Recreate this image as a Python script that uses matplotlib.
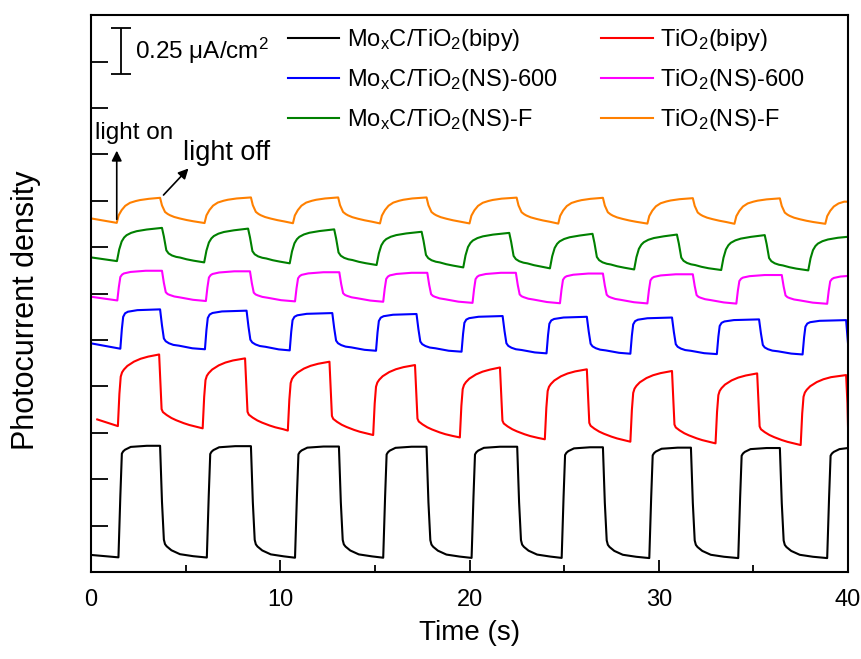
"""Transient photocurrent response of the TiO2 and MoxC/TiO2 electrodes (chopped light)."""

import matplotlib

matplotlib.use("Agg")
import matplotlib.pyplot as plt
from matplotlib.ticker import MultipleLocator

plt.rcParams["font.family"] = ["Liberation Sans", "DejaVu Sans"]
plt.rcParams["mathtext.default"] = "regular"

# Each trace: start point, light-on / light-off times (s), dark level just before
# each light-on, photocurrent level just before each light-off, and the value at 40 s.
# Levels are in uA/cm2 including the vertical offset used for stacking.
BIPY_MOXC_START = (0.0, 0.092)
BIPY_MOXC_ON = [1.45, 6.12, 10.78, 15.44, 20.11, 24.87, 29.50, 34.20, 38.90]
BIPY_MOXC_OFF = [3.65, 8.45, 13.10, 17.73, 22.52, 27.05, 31.70, 36.40]
BIPY_MOXC_DARK = [0.079, 0.078, 0.077, 0.077, 0.076, 0.076, 0.075, 0.075, 0.075]
BIPY_MOXC_LIGHT = [0.680, 0.678, 0.676, 0.675, 0.675, 0.672, 0.670, 0.668, 0.668]
BIPY_MOXC_END = 0.668

BIPY_TIO2_START = (0.33, 0.822)
BIPY_TIO2_ON = [1.42, 5.90, 10.40, 14.91, 19.49, 23.98, 28.50, 33.00, 37.50]
BIPY_TIO2_OFF = [3.60, 8.14, 12.60, 17.12, 21.61, 26.20, 30.70, 35.20, 39.90]
BIPY_TIO2_DARK = [0.786, 0.774, 0.762, 0.738, 0.725, 0.715, 0.702, 0.693, 0.684]
BIPY_TIO2_LIGHT = [1.172, 1.151, 1.133, 1.115, 1.102, 1.092, 1.083, 1.070, 1.061]
BIPY_TIO2_END = 0.785

NS600_MOXC_START = (0.0, 1.232)
NS600_MOXC_ON = [1.55, 6.02, 10.50, 15.06, 19.58, 24.07, 28.50, 33.07, 37.60]
NS600_MOXC_OFF = [3.65, 8.22, 12.75, 17.20, 21.75, 26.20, 30.70, 35.30, 39.90]
NS600_MOXC_DARK = [1.203, 1.200, 1.194, 1.192, 1.187, 1.178, 1.176, 1.174, 1.172]
NS600_MOXC_LIGHT = [1.415, 1.408, 1.395, 1.390, 1.379, 1.375, 1.371, 1.361, 1.357]
NS600_MOXC_END = 1.232

NS600_TIO2_START = (0.0, 1.483)
NS600_TIO2_ON = [1.39, 6.07, 10.78, 15.44, 20.16, 24.78, 29.40, 34.10, 38.90]
NS600_TIO2_OFF = [3.75, 8.40, 13.12, 17.77, 22.45, 27.05, 31.80, 36.50]
NS600_TIO2_DARK = [1.463, 1.460, 1.458, 1.456, 1.450, 1.448, 1.447, 1.446, 1.445]
NS600_TIO2_LIGHT = [1.623, 1.620, 1.615, 1.612, 1.612, 1.608, 1.604, 1.600, 1.598]
NS600_TIO2_END = 1.595

NSF_MOXC_START = (0.0, 1.695)
NSF_MOXC_ON = [1.37, 5.98, 10.50, 15.09, 19.67, 24.25, 28.70, 33.30, 37.90]
NSF_MOXC_OFF = [3.75, 8.30, 12.85, 17.47, 22.10, 26.50, 30.96, 35.60]
NSF_MOXC_DARK = [1.675, 1.668, 1.663, 1.654, 1.641, 1.636, 1.630, 1.627, 1.625]
NSF_MOXC_LIGHT = [1.854, 1.850, 1.846, 1.833, 1.827, 1.822, 1.818, 1.815, 1.810]
NSF_MOXC_END = 1.806

NSF_TIO2_START = (0.0, 1.905)
NSF_TIO2_ON = [1.36, 6.00, 10.67, 15.27, 20.00, 24.69, 29.40, 34.00, 38.80]
NSF_TIO2_OFF = [3.65, 8.45, 13.06, 17.73, 22.49, 27.05, 31.80, 36.40]
NSF_TIO2_DARK = [1.881, 1.880, 1.879, 1.878, 1.878, 1.877, 1.877, 1.876, 1.876]
NSF_TIO2_LIGHT = [2.016, 2.018, 2.018, 2.018, 2.017, 2.016, 2.014, 2.013, 2.013]
NSF_TIO2_END = 1.995

# Rise / decay shape of each electrode: seconds after the switch and the fraction
# of the dark-to-light step reached at that moment.
SQUARE_ON = ([0.0, 0.10, 0.18, 0.25, 0.35, 0.65, 1.50],
             [0.0, 0.55, 0.93, 0.95, 0.965, 0.99, 1.0])
SQUARE_OFF = ([0.0, 0.10, 0.20, 0.26, 0.35, 0.60, 1.05, 1.75],
              [1.0, 0.50, 0.16, 0.12, 0.10, 0.065, 0.03, 0.012])
BIPY_TIO2_RISE = ([0.0, 0.08, 0.15, 0.22, 0.32, 0.50, 0.85, 1.20, 1.60],
                  [0.0, 0.45, 0.69, 0.75, 0.79, 0.84, 0.90, 0.94, 0.97])
BIPY_TIO2_DECAY = ([0.0, 0.07, 0.13, 0.20, 0.40, 0.65, 0.90, 1.30, 1.60, 2.00],
                   [1.0, 0.60, 0.26, 0.22, 0.18, 0.14, 0.11, 0.07, 0.045, 0.02])
NS600_MOXC_RISE = ([0.0, 0.08, 0.15, 0.25, 0.40, 0.90],
                   [0.0, 0.50, 0.81, 0.90, 0.94, 0.98])
NS600_MOXC_DECAY = ([0.0, 0.10, 0.20, 0.30, 0.47, 0.70, 1.00, 1.70],
                    [1.0, 0.60, 0.27, 0.20, 0.15, 0.11, 0.09, 0.025])
NS600_TIO2_RISE = ([0.0, 0.08, 0.16, 0.25, 0.35, 0.70, 1.50],
                   [0.0, 0.45, 0.79, 0.87, 0.91, 0.96, 1.0])
NS600_TIO2_DECAY = ([0.0, 0.10, 0.20, 0.30, 0.41, 0.65, 0.94, 1.64],
                    [1.0, 0.60, 0.29, 0.23, 0.20, 0.15, 0.12, 0.04])
NSF_MOXC_RISE = ([0.0, 0.12, 0.25, 0.38, 0.51, 0.75, 1.04, 1.57],
                 [0.0, 0.35, 0.59, 0.71, 0.78, 0.85, 0.90, 0.95])
NSF_MOXC_DECAY = ([0.0, 0.10, 0.23, 0.35, 0.53, 0.75, 0.96, 1.30, 1.67],
                  [1.0, 0.75, 0.35, 0.26, 0.20, 0.16, 0.14, 0.09, 0.05])
NSF_TIO2_RISE = ([0.0, 0.10, 0.26, 0.45, 0.70, 1.00, 1.23, 1.70],
                 [0.0, 0.30, 0.51, 0.68, 0.80, 0.87, 0.91, 0.96])
NSF_TIO2_DECAY = ([0.0, 0.10, 0.26, 0.40, 0.52, 0.75, 1.05, 1.40, 1.76],
                  [1.0, 0.70, 0.44, 0.36, 0.31, 0.24, 0.18, 0.12, 0.07])

T_END = 40.0
SCALE_BAR = 0.25

LABELS = [
    r"Mo$_x$C/TiO$_2$(bipy)",
    r"TiO$_2$(bipy)",
    r"Mo$_x$C/TiO$_2$(NS)-600",
    r"TiO$_2$(NS)-600",
    r"Mo$_x$C/TiO$_2$(NS)-F",
    r"TiO$_2$(NS)-F",
]
COLORS = ["black", "#ff0000", "#0000ff", "#ff00ff", "#008000", "#ff8000"]


def build_trace(start, on, off, dark, light, end, rise, decay):
    t, v = [start[0]], [start[1]]
    for i, t_on in enumerate(on):
        stop = off[i] if i < len(off) else T_END
        for dt, f in zip(*rise):
            if t_on + dt < stop:
                t.append(t_on + dt)
                v.append(dark[i] + f * (light[i] - dark[i]))
        if i < len(off):
            nxt = on[i + 1] if i + 1 < len(on) else T_END
            base = dark[i + 1] if i + 1 < len(dark) else dark[i]
            for dt, f in zip(*decay):
                if off[i] + dt < nxt:
                    t.append(off[i] + dt)
                    v.append(base + f * (light[i] - base))
    t.append(T_END)
    v.append(end)
    return t, v


traces = [
    build_trace(BIPY_MOXC_START, BIPY_MOXC_ON, BIPY_MOXC_OFF, BIPY_MOXC_DARK,
                BIPY_MOXC_LIGHT, BIPY_MOXC_END, SQUARE_ON, SQUARE_OFF),
    build_trace(BIPY_TIO2_START, BIPY_TIO2_ON, BIPY_TIO2_OFF, BIPY_TIO2_DARK,
                BIPY_TIO2_LIGHT, BIPY_TIO2_END, BIPY_TIO2_RISE, BIPY_TIO2_DECAY),
    build_trace(NS600_MOXC_START, NS600_MOXC_ON, NS600_MOXC_OFF, NS600_MOXC_DARK,
                NS600_MOXC_LIGHT, NS600_MOXC_END, NS600_MOXC_RISE, NS600_MOXC_DECAY),
    build_trace(NS600_TIO2_START, NS600_TIO2_ON, NS600_TIO2_OFF, NS600_TIO2_DARK,
                NS600_TIO2_LIGHT, NS600_TIO2_END, NS600_TIO2_RISE, NS600_TIO2_DECAY),
    build_trace(NSF_MOXC_START, NSF_MOXC_ON, NSF_MOXC_OFF, NSF_MOXC_DARK,
                NSF_MOXC_LIGHT, NSF_MOXC_END, NSF_MOXC_RISE, NSF_MOXC_DECAY),
    build_trace(NSF_TIO2_START, NSF_TIO2_ON, NSF_TIO2_OFF, NSF_TIO2_DARK,
                NSF_TIO2_LIGHT, NSF_TIO2_END, NSF_TIO2_RISE, NSF_TIO2_DECAY),
]

fig = plt.figure(figsize=(8.61, 6.59), dpi=100)
ax = fig.add_axes([0.1057, 0.132, 0.8792, 0.845])

lines = {}
for (t, v), label, color in zip(traces, LABELS, COLORS):
    (lines[label],) = ax.plot(t, v, color=color, lw=1.5, label=label)

ax.set_xlim(0, 40)
ax.set_ylim(0, 3.0)
ax.xaxis.set_major_locator(MultipleLocator(10))
ax.xaxis.set_minor_locator(MultipleLocator(5))
ax.yaxis.set_major_locator(MultipleLocator(SCALE_BAR))
ax.tick_params(axis="x", which="major", direction="in", length=9, width=1.3, labelsize=17, pad=12)
ax.tick_params(axis="x", which="minor", direction="in", length=5, width=1.3)
ax.tick_params(axis="y", which="major", direction="in", length=12, width=1.3, labelleft=False)
for spine in ax.spines.values():
    spine.set_linewidth(1.5)

ax.set_xlabel("Time (s)", fontsize=20, labelpad=7)
ax.set_ylabel("Photocurrent density", fontsize=22)
ax.yaxis.set_label_coords(-0.066, 0.47)

# scale bar for the unlabeled current axis
ax.errorbar([1.58], [2.806], yerr=SCALE_BAR / 2, color="black", lw=1.3, capsize=7.5, capthick=1.3)
ax.text(2.32, 2.806, f"{SCALE_BAR} μA/cm$^2$", fontsize=17.5, va="center", ha="left")

ax.annotate("", xy=(1.36, 2.285), xytext=(1.36, 1.885),
            arrowprops=dict(arrowstyle="-|>", color="black", lw=1.2, mutation_scale=15))
ax.text(0.21, 2.364, "light on", fontsize=17.5, va="center", ha="left")
ax.annotate("", xy=(5.25, 2.185), xytext=(3.73, 2.02),
            arrowprops=dict(arrowstyle="-|>", color="black", lw=1.2, mutation_scale=15))
ax.text(4.86, 2.257, "light off", fontsize=19.5, va="center", ha="left")

order = [LABELS[0], LABELS[2], LABELS[4], LABELS[1], LABELS[3], LABELS[5]]
ax.legend([lines[k] for k in order], order, ncol=2, frameon=False, fontsize=17,
          loc="upper left", bbox_to_anchor=(0.244, 1.0), borderpad=0,
          handlelength=2.2, handletextpad=0.3, labelspacing=0.6, columnspacing=1.85)

fig.savefig("out.png", dpi=100)
